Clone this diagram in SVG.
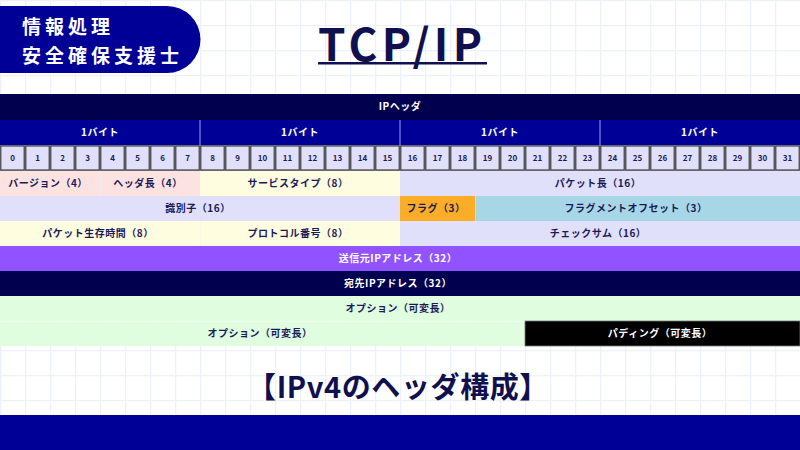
<svg xmlns="http://www.w3.org/2000/svg" width="800" height="450" viewBox="0 0 800 450">
<defs>
<pattern id="grid" width="25" height="25" patternUnits="userSpaceOnUse">
<rect width="25" height="25" fill="#ffffff"/>
<path d="M0 0H25M0 0V25" stroke="#edf2f9" stroke-width="2.5" fill="none"/>
</pattern>
<style>
.t{font-family:"Noto Sans CJK JP","Noto Sans",sans-serif;font-weight:bold;text-anchor:middle;}
.lb{font-size:10px;fill:#1a1a5a;letter-spacing:0.5px;}
.lw{font-size:10px;fill:#ffffff;letter-spacing:0.5px;}
.bit{font-size:8px;fill:#1a1a5a;}
.cell{fill:#e0e0fa;stroke:#444;stroke-width:1.2;}
</style>
</defs>
<rect width="800" height="450" fill="url(#grid)"/>

<g id="badge">
<path d="M0 6H167A33.5 33.5 0 0 1 167 73H0Z" fill="#000096"/>
<text x="22" y="34" font-family="Noto Sans CJK JP, sans-serif" font-weight="bold" font-size="19" letter-spacing="4" fill="#ffffff">情報処理</text>
<text x="22" y="63" font-family="Noto Sans CJK JP, sans-serif" font-weight="bold" font-size="19" letter-spacing="4" fill="#ffffff">安全確保支援士</text>
</g>

<g id="title">
<text x="400" y="61" class="t" font-size="44" fill="#10104f" textLength="164" lengthAdjust="spacing">TCP/IP</text>
<rect x="318" y="62" width="169" height="2.5" fill="#10104f"/>
</g>

<g id="ip-header">
<rect x="0" y="94" width="800" height="26" fill="#00004f"/>
<text x="400" y="110" class="t lw" font-size="9">IPヘッダ</text>
</g>

<g id="bytes">
<rect x="0" y="120" width="800" height="25" fill="#000096"/>
<path d="M200 120V145M400 120V145M600 120V145" stroke="#6a6ad8" stroke-width="1.5"/>
<text x="100" y="136" class="t lw" font-size="9">1バイト</text>
<text x="300" y="136" class="t lw" font-size="9">1バイト</text>
<text x="500" y="136" class="t lw" font-size="9">1バイト</text>
<text x="700" y="136" class="t lw" font-size="9">1バイト</text>
</g>

<g id="bits">
<rect x="0" y="145" width="800" height="26" fill="#9a9ab0"/>
<rect class="cell" x="0.8" y="146" width="23.4" height="24"/><text class="t bit" x="12.5" y="161">0</text>
<rect class="cell" x="25.8" y="146" width="23.4" height="24"/><text class="t bit" x="37.5" y="161">1</text>
<rect class="cell" x="50.8" y="146" width="23.4" height="24"/><text class="t bit" x="62.5" y="161">2</text>
<rect class="cell" x="75.8" y="146" width="23.4" height="24"/><text class="t bit" x="87.5" y="161">3</text>
<rect class="cell" x="100.8" y="146" width="23.4" height="24"/><text class="t bit" x="112.5" y="161">4</text>
<rect class="cell" x="125.8" y="146" width="23.4" height="24"/><text class="t bit" x="137.5" y="161">5</text>
<rect class="cell" x="150.8" y="146" width="23.4" height="24"/><text class="t bit" x="162.5" y="161">6</text>
<rect class="cell" x="175.8" y="146" width="23.4" height="24"/><text class="t bit" x="187.5" y="161">7</text>
<rect class="cell" x="200.8" y="146" width="23.4" height="24"/><text class="t bit" x="212.5" y="161">8</text>
<rect class="cell" x="225.8" y="146" width="23.4" height="24"/><text class="t bit" x="237.5" y="161">9</text>
<rect class="cell" x="250.8" y="146" width="23.4" height="24"/><text class="t bit" x="262.5" y="161">10</text>
<rect class="cell" x="275.8" y="146" width="23.4" height="24"/><text class="t bit" x="287.5" y="161">11</text>
<rect class="cell" x="300.8" y="146" width="23.4" height="24"/><text class="t bit" x="312.5" y="161">12</text>
<rect class="cell" x="325.8" y="146" width="23.4" height="24"/><text class="t bit" x="337.5" y="161">13</text>
<rect class="cell" x="350.8" y="146" width="23.4" height="24"/><text class="t bit" x="362.5" y="161">14</text>
<rect class="cell" x="375.8" y="146" width="23.4" height="24"/><text class="t bit" x="387.5" y="161">15</text>
<rect class="cell" x="400.8" y="146" width="23.4" height="24"/><text class="t bit" x="412.5" y="161">16</text>
<rect class="cell" x="425.8" y="146" width="23.4" height="24"/><text class="t bit" x="437.5" y="161">17</text>
<rect class="cell" x="450.8" y="146" width="23.4" height="24"/><text class="t bit" x="462.5" y="161">18</text>
<rect class="cell" x="475.8" y="146" width="23.4" height="24"/><text class="t bit" x="487.5" y="161">19</text>
<rect class="cell" x="500.8" y="146" width="23.4" height="24"/><text class="t bit" x="512.5" y="161">20</text>
<rect class="cell" x="525.8" y="146" width="23.4" height="24"/><text class="t bit" x="537.5" y="161">21</text>
<rect class="cell" x="550.8" y="146" width="23.4" height="24"/><text class="t bit" x="562.5" y="161">22</text>
<rect class="cell" x="575.8" y="146" width="23.4" height="24"/><text class="t bit" x="587.5" y="161">23</text>
<rect class="cell" x="600.8" y="146" width="23.4" height="24"/><text class="t bit" x="612.5" y="161">24</text>
<rect class="cell" x="625.8" y="146" width="23.4" height="24"/><text class="t bit" x="637.5" y="161">25</text>
<rect class="cell" x="650.8" y="146" width="23.4" height="24"/><text class="t bit" x="662.5" y="161">26</text>
<rect class="cell" x="675.8" y="146" width="23.4" height="24"/><text class="t bit" x="687.5" y="161">27</text>
<rect class="cell" x="700.8" y="146" width="23.4" height="24"/><text class="t bit" x="712.5" y="161">28</text>
<rect class="cell" x="725.8" y="146" width="23.4" height="24"/><text class="t bit" x="737.5" y="161">29</text>
<rect class="cell" x="750.8" y="146" width="23.4" height="24"/><text class="t bit" x="762.5" y="161">30</text>
<rect class="cell" x="775.8" y="146" width="23.4" height="24"/><text class="t bit" x="787.5" y="161">31</text>
</g>

<g id="version"><rect x="0" y="171" width="100" height="25" fill="#fde2e2"/><text class="t lb" x="48" y="187">バージョン（4）</text></g>
<g id="header-length"><rect x="100.5" y="171" width="99.5" height="25" fill="#fde2e2"/><text class="t lb" x="148" y="187">ヘッダ長（4）</text></g>
<g id="service-type"><rect x="200" y="171" width="200" height="25" fill="#fffde0"/><text class="t lb" x="298" y="187">サービスタイプ（8）</text></g>
<g id="packet-length"><rect x="400" y="171" width="400" height="25" fill="#e0e0fb"/><text class="t lb" x="598" y="187">パケット長（16）</text></g>

<g id="identifier"><rect x="0" y="196" width="400" height="25" fill="#e0e0fb"/><text class="t lb" x="198" y="212">識別子（16）</text></g>
<g id="flag"><rect x="400" y="196" width="75" height="25" fill="#fbad27"/><text class="t lb" x="436" y="212">フラグ（3）</text></g>
<g id="fragment-offset"><rect x="475.5" y="196" width="324.5" height="25" fill="#a7d7e6"/><text class="t lb" x="636" y="212">フラグメントオフセット（3）</text></g>

<g id="ttl"><rect x="0" y="221" width="200" height="25" fill="#fffde0"/><text class="t lb" x="98" y="237">パケット生存時間（8）</text></g>
<g id="protocol"><rect x="200.5" y="221" width="199.5" height="25" fill="#fffde0"/><text class="t lb" x="298" y="237">プロトコル番号（8）</text></g>
<g id="checksum"><rect x="400" y="221" width="400" height="25" fill="#e0e0fb"/><text class="t lb" x="598" y="237">チェックサム（16）</text></g>

<g id="source-ip"><rect x="0" y="246" width="800" height="25" fill="#9153ff"/><text class="t lw" x="398" y="262">送信元IPアドレス（32）</text></g>
<g id="dest-ip"><rect x="0" y="271" width="800" height="25" fill="#00004f"/><text class="t lw" x="398" y="287">宛先IPアドレス（32）</text></g>
<g id="option1"><rect x="0" y="296" width="800" height="25" fill="#e0fde0"/><text class="t lb" x="398" y="312">オプション（可変長）</text></g>
<g id="option2"><rect x="0" y="321.5" width="525" height="24.5" fill="#e0fde0"/><text class="t lb" x="260" y="337">オプション（可変長）</text></g>
<g id="padding"><rect x="525" y="321" width="275" height="25" fill="#000000" stroke="#777" stroke-width="0.8"/><text class="t lw" x="660" y="337">パディング（可変長）</text></g>

<g id="caption">
<text x="398" y="398" class="t" font-size="29" letter-spacing="0.6" fill="#10104f">【IPv4のヘッダ構成】</text>
</g>

<rect id="footer" x="0" y="415" width="800" height="35" fill="#000096"/>
</svg>
